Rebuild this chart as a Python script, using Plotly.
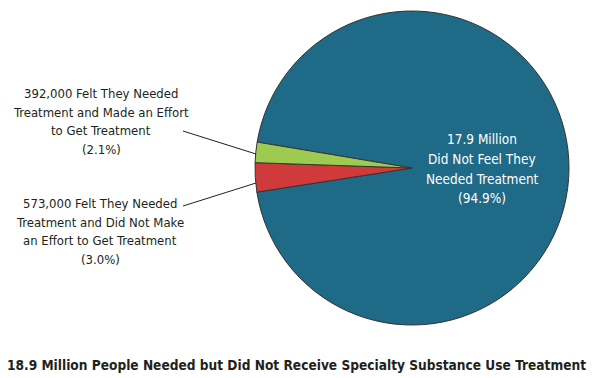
import plotly.graph_objects as go

labels = ["Did Not Feel They Needed Treatment",
          "Felt They Needed Treatment and Did Not Make an Effort",
          "Felt They Needed Treatment and Made an Effort"]
values = [94.9, 3.0, 2.1]
colors = ["#1f6a87", "#d13a3a", "#9dcb52"]

label_green = ["392,000 Felt They Needed", "Treatment and Made an Effort", "to Get Treatment", "(2.1%)"]
label_red = ["573,000 Felt They Needed", "Treatment and Did Not Make", "an Effort to Get Treatment", "(3.0%)"]
label_blue = ["17.9 Million", "Did Not Feel They", "Needed Treatment", "(94.9%)"]
title = "18.9 Million People Needed but Did Not Receive Specialty Substance Use Treatment"

FONT = "DejaVu Sans Condensed, Liberation Sans Narrow, Arial Narrow, sans-serif"
W, H = 595, 378

def px(x): return x / W
def py(y): return 1 - y / H

fig = go.Figure(go.Pie(
    labels=labels, values=values, sort=False, direction="clockwise",
    rotation=279.5,
    marker=dict(colors=colors, line=dict(color="#333333", width=1)),
    textinfo="none", hoverinfo="none", showlegend=False,
    domain=dict(x=[px(412 - 157), px(412 + 157)], y=[py(325), py(11)]),
))

anns = []
def add_block(lines, cx, ys, color, size):
    for line, y in zip(lines, ys):
        anns.append(dict(text=line, x=px(cx), y=py(y), font=dict(size=size, color=color)))

add_block(label_green, 101, [93, 112, 131, 150], "#231f20", 13)
add_block(label_red, 100, [203, 222, 240, 259], "#231f20", 13)
add_block(label_blue, 482, [139, 159, 179, 198], "white", 13.5)
anns.append(dict(text="<b>" + title + "</b>", x=px(296), y=py(365),
                 font=dict(size=13.6, color="#231f20")))
for a in anns:
    a.update(xref="paper", yref="paper", showarrow=False, align="center",
             xanchor="center", yanchor="middle")

shapes = [
    dict(type="line", xref="paper", yref="paper", x0=px(183), y0=py(131), x1=px(256), y1=py(154),
         line=dict(color="#231f20", width=1)),
    dict(type="line", xref="paper", yref="paper", x0=px(183), y0=py(206), x1=px(256), y1=py(183),
         line=dict(color="#231f20", width=1)),
]

fig.update_layout(
    width=W, height=H, margin=dict(l=0, r=0, t=0, b=0),
    paper_bgcolor="white", plot_bgcolor="white",
    font=dict(family=FONT, color="#231f20"),
    annotations=anns, shapes=shapes,
)
fig.write_html("out.html", config={"displayModeBar": False},
               post_script="document.body.style.margin='0';")
